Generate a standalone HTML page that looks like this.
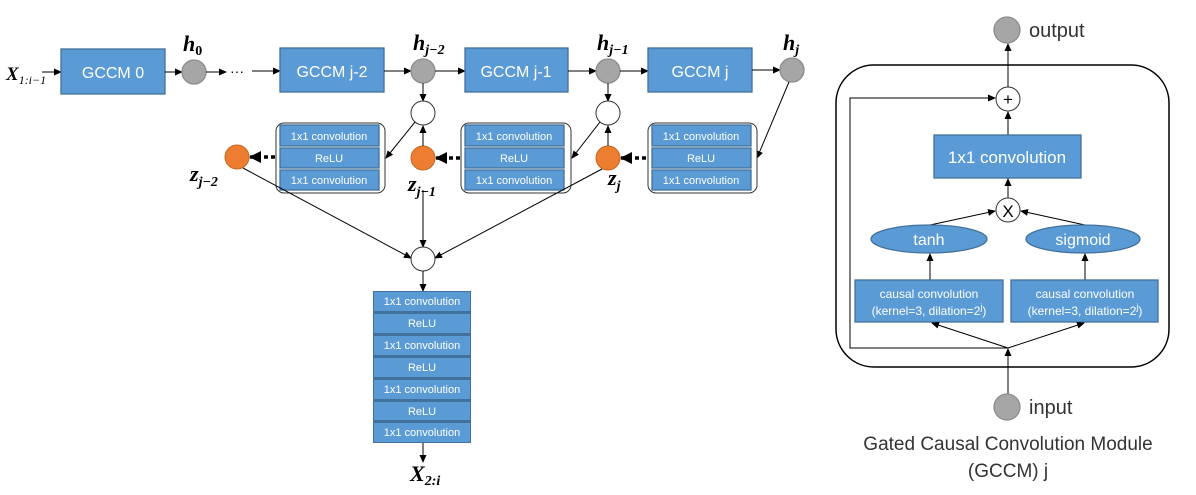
<!DOCTYPE html>
<html><head><meta charset="utf-8"><style>
html,body{margin:0;padding:0;background:#fff;width:1196px;height:495px;overflow:hidden}
svg{display:block}
.b{fill:#5b9bd5;stroke:#41719c;stroke-width:1.3}
.t{font-family:"Liberation Sans",sans-serif;fill:#fff;text-anchor:middle}
.m{font-family:"Liberation Serif",serif;font-weight:bold;font-style:italic;fill:#000}
.l{stroke:#000;stroke-width:1;fill:none}
.g{fill:#a6a6a6;stroke:#8c8c8c;stroke-width:1.3}
.w{fill:#fff;stroke:#333;stroke-width:1}
.o{fill:#ed7d31;stroke:#c5661f;stroke-width:1}
</style></head><body>
<svg width="1196" height="495" viewBox="0 0 1196 495">
<defs>
<marker id="a" markerWidth="8" markerHeight="8" refX="7" refY="4" orient="auto" markerUnits="userSpaceOnUse"><path d="M0,0.5 L8,4 L0,7.5z" fill="#000"/></marker>
<marker id="A" markerWidth="12" markerHeight="12" refX="11" refY="6" orient="auto" markerUnits="userSpaceOnUse"><path d="M0,0 L12,6 L0,12z" fill="#000"/></marker>
</defs>
<!-- top row -->
<text x="6" y="80" class="m" font-size="19">X<tspan font-size="12" dy="4" font-weight="normal">1:i−1</tspan></text>
<line x1="42" y1="72" x2="61" y2="72" class="l" marker-end="url(#a)"/>
<rect x="61" y="49" width="104" height="45" class="b"/><text x="113" y="78" class="t" font-size="16">GCCM 0</text>
<line x1="165" y1="72" x2="182" y2="72" class="l" marker-end="url(#a)"/>
<circle cx="194" cy="72" r="12" class="g"/>
<text x="183" y="51" class="m" font-size="22">h<tspan font-size="14" dy="4" font-style="normal">0</tspan></text>
<line x1="206" y1="72" x2="226" y2="72" class="l" marker-end="url(#a)"/>
<text x="230" y="76" font-family="Liberation Sans" font-size="14">···</text>
<line x1="252" y1="71" x2="280" y2="71" class="l" marker-end="url(#a)"/>
<rect x="280" y="48" width="104" height="44" class="b"/><text x="332" y="77" class="t" font-size="16">GCCM j-2</text>
<line x1="384" y1="71" x2="411" y2="71" class="l" marker-end="url(#a)"/>
<circle cx="423" cy="71" r="12" class="g"/>
<text x="413" y="50" class="m" font-size="22">h<tspan font-size="14" dy="4">j−2</tspan></text>
<line x1="435" y1="71" x2="465" y2="71" class="l" marker-end="url(#a)"/>
<rect x="465" y="48" width="103" height="44" class="b"/><text x="516" y="77" class="t" font-size="16">GCCM j-1</text>
<line x1="568" y1="71" x2="596" y2="71" class="l" marker-end="url(#a)"/>
<circle cx="608" cy="71" r="12" class="g"/>
<text x="597" y="50" class="m" font-size="22">h<tspan font-size="14" dy="4">j−1</tspan></text>
<line x1="620" y1="71" x2="648" y2="71" class="l" marker-end="url(#a)"/>
<rect x="648" y="48" width="104" height="44" class="b"/><text x="700" y="77" class="t" font-size="16">GCCM j</text>
<line x1="752" y1="70" x2="780" y2="70" class="l" marker-end="url(#a)"/>
<circle cx="792" cy="70" r="12" class="g"/>
<text x="783" y="50" class="m" font-size="22">h<tspan font-size="14" dy="4">j</tspan></text>
<!-- vertical down to white circles -->
<line x1="423" y1="83" x2="423" y2="101" class="l" marker-end="url(#a)"/>
<circle cx="423" cy="113" r="12" class="w"/>
<line x1="608" y1="83" x2="608" y2="101" class="l" marker-end="url(#a)"/>
<circle cx="608" cy="113" r="12" class="w"/>
<!-- diagonal to stacks -->
<line x1="415" y1="122" x2="386" y2="158" class="l" marker-end="url(#a)"/>
<line x1="600" y1="122" x2="572" y2="158" class="l" marker-end="url(#a)"/>
<line x1="789" y1="82" x2="757" y2="158" class="l" marker-end="url(#a)"/>
<!-- stacks -->
<g>
<rect x="276" y="123" width="109" height="70" rx="8" fill="none" stroke="#333" stroke-width="1"/>
<rect x="280" y="125" width="99" height="21" class="b"/><text x="329" y="140" class="t" font-size="11">1x1 convolution</text>
<rect x="280" y="148" width="99" height="20" class="b"/><text x="329" y="162" class="t" font-size="11">ReLU</text>
<rect x="280" y="170" width="99" height="20" class="b"/><text x="329" y="184" class="t" font-size="11">1x1 convolution</text>
</g>
<g transform="translate(185,0)">
<rect x="276" y="123" width="110" height="70" rx="8" fill="none" stroke="#333" stroke-width="1"/>
<rect x="280" y="125" width="99" height="21" class="b"/><text x="329" y="140" class="t" font-size="11">1x1 convolution</text>
<rect x="280" y="148" width="99" height="20" class="b"/><text x="329" y="162" class="t" font-size="11">ReLU</text>
<rect x="280" y="170" width="99" height="20" class="b"/><text x="329" y="184" class="t" font-size="11">1x1 convolution</text>
</g>
<g transform="translate(372,0)">
<rect x="276" y="123" width="109" height="70" rx="8" fill="none" stroke="#333" stroke-width="1"/>
<rect x="280" y="125" width="99" height="21" class="b"/><text x="329" y="140" class="t" font-size="11">1x1 convolution</text>
<rect x="280" y="148" width="99" height="20" class="b"/><text x="329" y="162" class="t" font-size="11">ReLU</text>
<rect x="280" y="170" width="99" height="20" class="b"/><text x="329" y="184" class="t" font-size="11">1x1 convolution</text>
</g>
<!-- dotted arrows -->
<line x1="275" y1="157" x2="250" y2="157" stroke="#000" stroke-width="3.5" stroke-dasharray="4,3" marker-end="url(#A)"/>
<line x1="460" y1="158" x2="436" y2="158" stroke="#000" stroke-width="3.5" stroke-dasharray="4,3" marker-end="url(#A)"/>
<line x1="646" y1="158" x2="621" y2="158" stroke="#000" stroke-width="3.5" stroke-dasharray="4,3" marker-end="url(#A)"/>
<!-- orange -->
<circle cx="237" cy="157" r="12" class="o"/>
<text x="190" y="181" class="m" font-size="22">z<tspan font-size="14" dy="5">j−2</tspan></text>
<circle cx="423" cy="158" r="12" class="o"/>
<text x="408" y="191" class="m" font-size="22">z<tspan font-size="14" dy="5">j−1</tspan></text>
<circle cx="608" cy="158" r="12" class="o"/>
<text x="608" y="185" class="m" font-size="22">z<tspan font-size="14" dy="5">j</tspan></text>
<line x1="423" y1="146" x2="423" y2="126" class="l" marker-end="url(#a)"/>
<line x1="608" y1="146" x2="608" y2="126" class="l" marker-end="url(#a)"/>
<!-- to merge -->
<line x1="243" y1="168" x2="411" y2="258" class="l" marker-end="url(#a)"/>
<line x1="423" y1="190" x2="423" y2="247" class="l" marker-end="url(#a)"/>
<line x1="602" y1="169" x2="435" y2="258" class="l" marker-end="url(#a)"/>
<circle cx="423" cy="259" r="12" class="w"/>
<line x1="423" y1="271" x2="423" y2="291" class="l" marker-end="url(#a)"/>
<!-- output stack -->
<rect x="373" y="291" width="98" height="152" fill="#41719c"/>
<g font-size="11">
<rect x="374" y="292" width="96" height="19" fill="#5b9bd5"/><text x="422" y="305" class="t">1x1 convolution</text>
<rect x="374" y="314" width="96" height="19" fill="#5b9bd5"/><text x="422" y="327" class="t">ReLU</text>
<rect x="374" y="336" width="96" height="19" fill="#5b9bd5"/><text x="422" y="349" class="t">1x1 convolution</text>
<rect x="374" y="358" width="96" height="19" fill="#5b9bd5"/><text x="422" y="371" class="t">ReLU</text>
<rect x="374" y="380" width="96" height="19" fill="#5b9bd5"/><text x="422" y="393" class="t">1x1 convolution</text>
<rect x="374" y="402" width="96" height="18" fill="#5b9bd5"/><text x="422" y="415" class="t">ReLU</text>
<rect x="374" y="423" width="96" height="19" fill="#5b9bd5"/><text x="422" y="436" class="t">1x1 convolution</text>
</g>
<line x1="423" y1="443" x2="423" y2="462" class="l" marker-end="url(#a)"/>
<text x="410" y="481" class="m" font-size="22">X<tspan font-size="14" dy="4">2:i</tspan></text>

<!-- right panel -->
<rect x="836" y="65" width="333" height="302" rx="38" fill="none" stroke="#000" stroke-width="1.5"/>
<circle cx="1007" cy="30" r="13" class="g"/>
<text x="1029" y="37" font-family="Liberation Sans" font-size="20" fill="#333">output</text>
<line x1="1008" y1="87" x2="1008" y2="44" class="l" marker-end="url(#a)"/>
<circle cx="1008" cy="99" r="12" class="w"/>
<text x="1008" y="105" font-family="Liberation Sans" font-size="17" text-anchor="middle">+</text>
<polyline points="1008,348 850,348 850,98 995,98" class="l" marker-end="url(#a)"/>
<line x1="1008" y1="135" x2="1008" y2="112" class="l" marker-end="url(#a)"/>
<rect x="934" y="135" width="147" height="43" class="b"/><text x="1007" y="163" class="t" font-size="17">1x1 convolution</text>
<line x1="1008" y1="198" x2="1008" y2="179" class="l" marker-end="url(#a)"/>
<circle cx="1008" cy="210" r="12" class="w"/>
<text x="1008" y="217" font-family="Liberation Sans" font-size="17" text-anchor="middle">X</text>
<line x1="930" y1="225" x2="995" y2="211" class="l" marker-end="url(#a)"/>
<line x1="1085" y1="225" x2="1021" y2="211" class="l" marker-end="url(#a)"/>
<ellipse cx="929" cy="239" rx="58" ry="14" class="b"/><text x="929" y="245" class="t" font-size="16">tanh</text>
<ellipse cx="1083" cy="239" rx="57" ry="14" class="b"/><text x="1083" y="245" class="t" font-size="16">sigmoid</text>
<line x1="930" y1="280" x2="930" y2="254" class="l" marker-end="url(#a)"/>
<line x1="1085" y1="280" x2="1085" y2="254" class="l" marker-end="url(#a)"/>
<rect x="855" y="280" width="148" height="42" class="b"/>
<text x="929" y="298" class="t" font-size="12">causal convolution</text>
<text x="929" y="315" class="t" font-size="12">(kernel=3, dilation=2<tspan font-size="9" dy="-5">j</tspan><tspan dy="5">)</tspan></text>
<rect x="1011" y="280" width="147" height="42" class="b"/>
<text x="1085" y="298" class="t" font-size="12">causal convolution</text>
<text x="1085" y="315" class="t" font-size="12">(kernel=3, dilation=2<tspan font-size="9" dy="-5">j</tspan><tspan dy="5">)</tspan></text>
<line x1="1008" y1="348" x2="932" y2="323" class="l" marker-end="url(#a)"/>
<line x1="1008" y1="348" x2="1084" y2="323" class="l" marker-end="url(#a)"/>
<line x1="1008" y1="394" x2="1008" y2="349" class="l" marker-end="url(#a)"/>
<circle cx="1007" cy="407" r="13" class="g"/>
<text x="1029" y="414" font-family="Liberation Sans" font-size="20" fill="#333">input</text>
<text x="1008" y="450" font-family="Liberation Sans" font-size="19" fill="#333" text-anchor="middle">Gated Causal Convolution Module</text>
<text x="1008" y="477" font-family="Liberation Sans" font-size="19" fill="#333" text-anchor="middle">(GCCM) j</text>
</svg>
</body></html>
